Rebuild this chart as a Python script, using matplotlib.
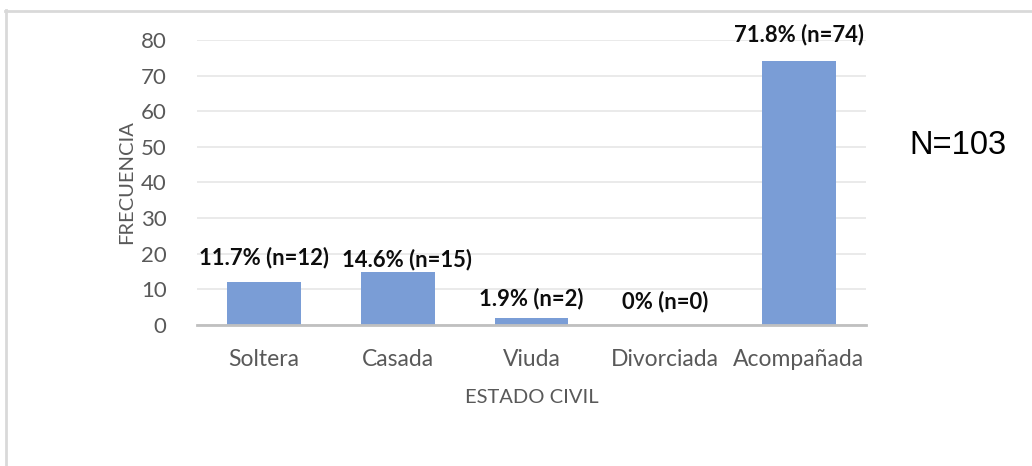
import numpy as np
from matplotlib import pyplot as plt
from matplotlib.lines import Line2D

categories = ["Soltera", "Casada", "Viuda", "Divorciada", "Acompañada"]
counts = [12, 15, 2, 0, 74]
labels = ["11.7% (n=12)", "14.6% (n=15)", "1.9% (n=2)", "0% (n=0)", "71.8% (n=74)"]
yticks = [0, 10, 20, 30, 40, 50, 60, 70, 80]

plt.rcParams['font.family'] = ['Lato', 'DejaVu Sans']

fig = plt.figure(figsize=(10.32, 4.66), dpi=100)
ax = fig.add_axes([0.191, 0.3026, 0.648, 0.6116])

x = np.arange(len(categories))
ax.bar(x, counts, width=0.55, color='#7A9DD6', zorder=3)

# label offsets (points) from bar tops, hand placed like the excel chart
dx = [0, 7, 0, 0, 0]
dy = [18, 9, 14, 17, 19]
for i in range(len(counts)):
    ax.annotate(labels[i], (x[i], counts[i]), xytext=(dx[i], dy[i]),
                textcoords='offset points', ha='center', va='center',
                fontsize=15.8, fontweight='bold', color='#0d0d0d')

ax.set_xlim(-0.5, len(categories) - 0.5)
ax.set_ylim(0, 80)
ax.set_yticks(yticks)
ax.set_xticks(x)
ax.set_xticklabels(categories)
ax.grid(axis='y', color='#e6e6e6', linewidth=1.2, zorder=0)
ax.tick_params(axis='y', length=0, labelsize=16, colors='#595959', pad=22)
ax.tick_params(axis='x', length=0, labelsize=16.5, colors='#595959', pad=17)
for s in ['top', 'right', 'left']:
    ax.spines[s].set_visible(False)
ax.spines['bottom'].set_color('#c0c0c0')
ax.spines['bottom'].set_linewidth(2)
ax.spines['bottom'].set_zorder(4)

ax.set_xlabel("ESTADO CIVIL", fontsize=14.5, color='#595959', labelpad=14)
ax.set_ylabel("FRECUENCIA", fontsize=14.5, color='#595959', labelpad=4)

fig.text(0.9286, 0.687, "N=103", fontsize=23.5, family='Liberation Sans',
         ha='center', va='center', color='black')

# light frame around the figure (top and left only)
fig.add_artist(Line2D([0.005, 1.0], [1 - 11 / 466, 1 - 11 / 466],
                      transform=fig.transFigure, color='#d9d9d9', linewidth=2))
fig.add_artist(Line2D([6 / 1032, 6 / 1032], [0, 1 - 10 / 466],
                      transform=fig.transFigure, color='#d9d9d9', linewidth=2))

plt.savefig("out.png", dpi=100)
